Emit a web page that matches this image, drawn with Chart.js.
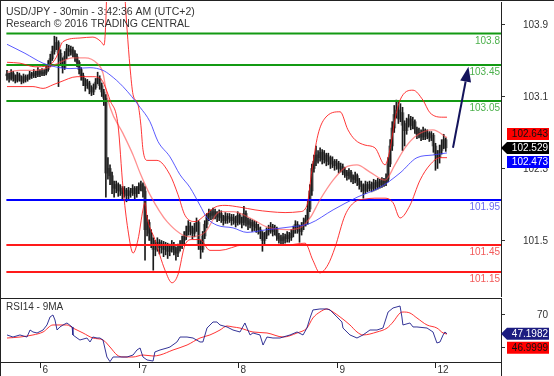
<!DOCTYPE html>
<html><head><meta charset="utf-8">
<script src="https://cdn.jsdelivr.net/npm/chart.js@4/dist/chart.umd.min.js"></script>
<style>
html,body{margin:0;padding:0;background:#fff;width:554px;height:376px;overflow:hidden}
#c1{position:absolute;left:0;top:0}
#c2{position:absolute;left:0;top:298px}
</style></head><body>
<canvas id="c1" width="554" height="298"></canvas>
<canvas id="c2" width="554" height="78"></canvas>
<script>
// ---------------- DATA ----------------
const titleLine1 = 'USD/JPY - 30min - 3:42:36 AM (UTC+2)';
const titleLine2 = 'Research \u00A9 2016 TRADING CENTRAL';
const rsiTitle = 'RSI14 - 9MA';

// 30-min bars, index 0 = first bar on screen
const firstOpen = 103.35;
const closes = [103.33,103.30,103.36,103.31,103.28,103.34,103.30,103.27,103.32,103.29,
103.31,103.35,103.33,103.36,103.34,103.38,103.35,103.37,103.36,103.40,
103.45,103.52,103.60,103.66,103.70,103.58,103.50,103.42,103.55,103.63,
103.60,103.62,103.58,103.54,103.48,103.40,103.33,103.28,103.22,103.25,
103.18,103.15,103.20,103.26,103.30,103.22,103.15,103.08,102.25,102.30,
102.22,102.12,102.08,102.12,102.05,102.08,102.02,102.06,102.00,102.05,
102.03,102.08,102.02,102.06,102.10,102.12,102.05,101.62,101.70,101.58,
101.50,101.40,101.45,101.48,101.42,101.46,101.40,101.44,101.38,101.42,
101.45,101.40,101.36,101.42,101.45,101.50,101.55,101.60,101.66,101.62,
101.58,101.64,101.70,101.45,101.40,101.55,101.68,101.76,101.80,101.78,
101.82,101.79,101.76,101.80,101.75,101.72,101.77,101.74,101.76,101.72,
101.75,101.70,101.78,101.73,101.70,101.80,101.72,101.68,101.70,101.66,
101.68,101.64,101.62,101.58,101.50,101.55,101.60,101.62,101.65,101.60,
101.63,101.55,101.52,101.50,101.54,101.52,101.56,101.53,101.58,101.62,
101.68,101.64,101.60,101.66,101.70,101.74,101.85,102.05,102.30,102.38,
102.45,102.42,102.48,102.40,102.45,102.38,102.42,102.35,102.38,102.33,
102.36,102.30,102.32,102.28,102.25,102.22,102.26,102.20,102.18,102.22,
102.16,102.12,102.10,102.05,102.12,102.08,102.12,102.08,102.14,102.10,
102.15,102.12,102.16,102.14,102.18,102.35,102.55,102.75,102.90,102.95,
102.85,102.92,102.78,102.72,102.80,102.85,102.78,102.82,102.74,102.68,
102.70,102.65,102.72,102.66,102.69,102.64,102.67,102.55,102.45,102.42,
102.50,102.56,102.62,102.53];
const highs = [103.39,103.36,103.40,103.38,103.34,103.37,103.36,103.33,103.35,103.34,
103.34,103.38,103.37,103.40,103.38,103.42,103.40,103.41,103.40,103.44,
103.50,103.57,103.66,103.77,103.76,103.72,103.62,103.53,103.60,103.68,
103.67,103.66,103.65,103.61,103.57,103.50,103.42,103.36,103.30,103.29,
103.27,103.22,103.24,103.30,103.37,103.33,103.25,103.18,103.12,102.42,
102.34,102.26,102.16,102.16,102.14,102.12,102.10,102.10,102.08,102.09,
102.08,102.12,102.10,102.10,102.14,102.16,102.14,102.10,101.78,101.73,
101.62,101.53,101.50,101.53,101.51,101.50,101.49,101.48,101.47,101.46,
101.50,101.48,101.43,101.46,101.50,101.55,101.60,101.66,101.72,101.70,
101.66,101.69,101.75,101.72,101.50,101.60,101.72,101.80,101.85,101.84,
101.86,101.85,101.82,101.84,101.83,101.78,101.81,101.80,101.80,101.79,
101.79,101.77,101.82,101.80,101.76,101.88,101.83,101.75,101.74,101.73,
101.72,101.71,101.68,101.65,101.60,101.59,101.64,101.67,101.70,101.68,
101.67,101.65,101.58,101.56,101.58,101.57,101.60,101.59,101.62,101.66,
101.72,101.71,101.67,101.70,101.75,101.78,101.95,102.12,102.35,102.45,
102.55,102.50,102.53,102.51,102.50,102.47,102.47,102.44,102.43,102.40,
102.40,102.38,102.36,102.35,102.31,102.28,102.30,102.28,102.23,102.26,
102.24,102.19,102.16,102.13,102.16,102.15,102.16,102.15,102.18,102.17,
102.19,102.18,102.20,102.19,102.24,102.42,102.62,102.82,103.00,103.06,
103.04,103.02,102.98,102.83,102.86,102.90,102.88,102.87,102.84,102.76,
102.75,102.73,102.76,102.74,102.73,102.71,102.71,102.69,102.58,102.50,
102.56,102.62,102.68,102.64];
const lows = [103.28,103.26,103.28,103.27,103.25,103.26,103.27,103.24,103.25,103.26,
103.27,103.29,103.30,103.31,103.31,103.32,103.32,103.33,103.33,103.34,
103.38,103.43,103.50,103.57,103.62,103.21,103.45,103.36,103.40,103.52,
103.55,103.56,103.54,103.49,103.43,103.35,103.28,103.22,103.16,103.19,
103.13,103.11,103.12,103.18,103.24,103.18,103.10,103.00,101.98,102.18,
102.12,102.02,101.98,102.03,101.99,102.00,101.95,101.98,101.93,101.96,
101.98,102.00,101.96,101.98,102.02,102.05,101.98,101.28,101.55,101.50,
101.42,101.17,101.33,101.38,101.35,101.36,101.32,101.34,101.30,101.33,
101.37,101.34,101.28,101.32,101.38,101.41,101.46,101.51,101.56,101.56,
101.52,101.54,101.60,101.40,101.30,101.37,101.52,101.64,101.72,101.73,
101.74,101.74,101.71,101.72,101.70,101.67,101.69,101.69,101.70,101.67,
101.68,101.65,101.67,101.68,101.64,101.67,101.66,101.62,101.64,101.60,
101.61,101.59,101.57,101.52,101.38,101.46,101.52,101.56,101.58,101.55,
101.56,101.50,101.47,101.46,101.46,101.47,101.48,101.48,101.50,101.54,
101.58,101.58,101.48,101.56,101.62,101.66,101.68,101.82,102.00,102.26,
102.33,102.36,102.38,102.35,102.36,102.33,102.34,102.30,102.31,102.28,
102.29,102.25,102.26,102.23,102.20,102.17,102.18,102.15,102.13,102.14,
102.11,102.07,102.04,101.97,102.02,102.04,102.05,102.04,102.05,102.06,
102.07,102.08,102.09,102.10,102.11,102.15,102.32,102.50,102.70,102.86,
102.80,102.82,102.50,102.55,102.68,102.76,102.73,102.74,102.69,102.63,
102.64,102.61,102.62,102.62,102.63,102.60,102.61,102.48,102.28,102.30,
102.36,102.46,102.52,102.49];

// Indicator curves: [bar index, value]
const bandUpper = [[0,103.48],[6.3,103.47],[13.6,103.43],[19.9,103.44],[23.8,103.53],[27.2,103.71],[35.4,103.75],[41.7,103.76],[45.6,103.71],[47.1,103.67],[48,103.95],[48.6,104.4],[52.5,105.0],[56.6,104.4],[58.3,103.84],[59.7,103.43],[61.2,103.12],[63.6,103.01],[65,102.78],[66,102.51],[68,102.39],[72.8,102.39],[79.1,102.23],[83,102.01],[86.4,101.78],[91.3,101.71],[96.1,101.78],[101,101.87],[105.8,101.89],[113.1,101.87],[120.4,101.84],[127.7,101.82],[135,101.81],[142.2,101.82],[145.6,101.89],[148,102.28],[150.9,102.67],[154.4,102.86],[161.7,102.93],[165.5,102.73],[168.9,102.62],[173.8,102.56],[178.6,102.53],[183.5,102.34],[185.9,102.51],[188.3,102.84],[190.8,103.06],[197.1,103.17],[201.9,103.06],[205.3,102.92],[211.7,102.87],[213.6,102.87]];
const bandMiddle = [[0,103.37],[6.3,103.39],[13.6,103.39],[19.9,103.42],[25.7,103.48],[31.6,103.53],[37.9,103.53],[43.7,103.47],[46.6,103.36],[48.1,103.17],[50,102.98],[56.3,102.69],[61.2,102.45],[64.6,102.25],[69.4,102.01],[77.7,101.71],[88.8,101.54],[96.1,101.59],[103.4,101.82],[109.7,101.82],[118,101.75],[126.2,101.65],[135.9,101.62],[142.2,101.64],[147.1,101.75],[151.9,101.95],[158.3,102.17],[164.1,102.31],[169.9,102.34],[176.2,102.26],[183.5,102.17],[188.3,102.34],[193.2,102.53],[199,102.67],[206.8,102.73],[213.6,102.643]];
const bandLower = [[0,103.21],[12.6,103.21],[17.5,103.19],[22.3,103.23],[25.7,103.26],[34,103.32],[41.7,103.32],[46.1,103.28],[47.6,103.21],[50,103.06],[53.9,102.78],[56.3,102.09],[58.7,101.62],[61.2,101.36],[63.6,101.51],[66,101.84],[67,101.92],[68,101.76],[71.8,101.51],[76.7,101.17],[80.1,101.03],[83,101.12],[86.4,101.45],[89.8,101.51],[93.7,101.51],[98.5,101.39],[103.4,101.39],[114.6,101.45],[125.2,101.45],[135.9,101.45],[144.7,101.47],[148.5,101.28],[151.9,101.14],[155.8,101.23],[159.2,101.42],[164.1,101.78],[168.9,101.93],[173.8,101.96],[178.6,101.97],[183.5,101.97],[187.4,101.92],[190.8,101.75],[195.6,101.89],[200.5,102.17],[205.3,102.34],[210.2,102.42],[213.6,102.42]];
const movingAvg = [[0,103.68],[8.7,103.58],[17.5,103.47],[25.7,103.42],[30.6,103.41],[40.3,103.42],[46.6,103.39],[50,103.34],[56.3,103.21],[64.6,102.98],[69.4,102.82],[73.3,102.6],[79.1,102.43],[84,102.23],[88.8,102.09],[93.7,101.89],[97.1,101.75],[101.9,101.67],[109.7,101.64],[116.5,101.59],[126.2,101.62],[137.4,101.65],[147.1,101.69],[158.3,101.84],[169.9,101.98],[181.1,102.09],[190.8,102.25],[199,102.42],[206.8,102.45],[213.6,102.473]];

const rsiValues = [[0,45.8],[2.9,43.3],[6.3,45.8],[9.7,43.3],[11.2,51.8],[12.6,49.4],[14.6,48.2],[17.5,51.8],[19.4,57.9],[20.9,67.6],[22.3,70],[23.3,63.9],[24.3,51.8],[25.7,55.5],[27.2,57.9],[29.1,60.3],[31.6,55.5],[32,45.8],[34,42.1],[35.4,39.7],[38.8,42.1],[40.3,37.3],[41.7,43.3],[43.7,42.1],[45.1,42.1],[46.6,39.7],[48.5,19.1],[50,13.5],[51.5,19.1],[54.9,19.1],[58.3,19.1],[61.2,21.5],[63.1,27.6],[64.6,30],[66,19.1],[68,15.5],[70.9,14.2],[71.8,25.2],[74.3,27.6],[77.7,30],[79.1,31.2],[82.5,37.3],[84,43.3],[87.4,43.3],[90.3,42.1],[93.7,37.3],[95.1,37.3],[97.1,54.2],[100,61.5],[101.9,61.5],[103.4,57.9],[106.8,55.5],[109.7,51.8],[113.1,49.4],[115.5,60.3],[116.5,54.2],[118,45.8],[119.4,48.2],[122.8,45.8],[124.3,33.6],[126.2,43.3],[129.1,42.1],[132.5,42.1],[134,43.3],[137.4,45.8],[140.8,49.4],[143.7,45.8],[145.6,54.2],[147.1,66.4],[148.5,76.1],[151.9,77.3],[155.3,77.3],[156.8,76.1],[160.2,67.6],[162.6,61.5],[163.1,54.2],[166.5,45.8],[169.9,42.1],[172.8,45.8],[176.2,51.8],[179.6,51.8],[182.5,54.2],[185,73.6],[187.4,78.5],[190.8,80.9],[191.7,67.6],[192.2,57.9],[195.6,60.3],[197.1,55.5],[199,55.5],[203.9,54.2],[206.8,49.4],[208.7,36.1],[210.2,37.3],[211.7,45.8],[212.6,49.4],[213.6,47.1982]];
const rsiMA = [[0,42.1],[6.3,43.3],[12.6,45.8],[17.5,49.4],[22.3,57.9],[29.1,57.9],[32,54.2],[36.9,48.2],[41.7,42.1],[46.6,39.7],[50,31.2],[53.4,21.5],[56.3,19.1],[61.2,19.1],[66,21.5],[70.9,20.3],[74.3,21.5],[80.6,27.6],[87.4,33.6],[93.7,42.1],[98.5,45.8],[103.4,51.8],[106.8,56.7],[109.7,55.5],[113.1,54.2],[119.4,49.4],[126.2,48.2],[134,43.3],[140.8,48.2],[145.6,54.2],[148.5,66.4],[151.9,73.6],[155.3,77.3],[158.3,73.6],[161.7,67.6],[166.5,57.9],[169.9,49.4],[172.8,45.8],[179.6,49.4],[184.5,54.2],[187.4,61.5],[190.8,72.4],[192.2,73.6],[195.6,72.4],[199,66.4],[203.9,57.9],[208.7,54.2],[211.7,48.2],[213.6,46.9999]];

const levelValues = [103.8, 103.45, 103.05, 101.95, 101.45, 101.15];
const levelLabels = ['103.8', '103.45', '103.05', '101.95', '101.45', '101.15'];
const priceTicks = [101.5, 102.3, 103.1, 103.9];
const rsiTicks = [30, 70];
const dayTickIndex = [16, 64, 112, 160, 208];
const dayTickLabels = ['6', '7', '8', '9', '12'];
const lastPrice = 102.529;
const lastUpperTag = 102.643;
const lastMATag = 102.473;
const lastRSI = 47.1982;
const lastRSIMA = 46.9999;
const forecastArrow = [[216.5, 102.53], [224.0, 103.43]];

// ---------------- STYLE / SETUP ----------------
const FONT = '"Liberation Sans", Arial, sans-serif';
const FS = '10px ';
const X_MIN = -2.913, X_MAX = 239.81;
const levelLine = ['#139a13','#139a13','#139a13','#0000ff','#ff1a1a','#ff1a1a'];
const levelText = ['#4cb04c','#4cb04c','#4cb04c','#6a6af2','#f25a5a','#f25a5a'];

const pts = a => a.map(([x, y]) => ({x, y}));
const bodyData = closes.map((c, i) => ({x: i, y: [i ? closes[i - 1] : firstOpen, c]}));
const wickData = closes.map((c, i) => ({x: i, y: [lows[i], highs[i]]}));

const levelDatasets = levelValues.map((v, k) => ({
  type: 'line', data: [{x: -0.3, y: v}, {x: X_MAX, y: v}], borderColor: levelLine[k],
  borderWidth: 2, pointRadius: 0, order: 4
}));

function tagBox(ctx, yc, bg, fg, text, arrow) {
  const x0 = 507, x1 = 549, h = 12;
  ctx.fillStyle = bg;
  ctx.beginPath();
  if (arrow) { ctx.moveTo(501, yc); ctx.lineTo(x0, yc - h / 2); }
  else ctx.moveTo(x0, yc - h / 2);
  ctx.lineTo(x1, yc - h / 2); ctx.lineTo(x1, yc + h / 2); ctx.lineTo(x0, yc + h / 2);
  ctx.closePath(); ctx.fill();
  ctx.fillStyle = fg; ctx.font = FS + FONT; ctx.textAlign = 'right'; ctx.textBaseline = 'middle';
  ctx.fillText(text, 548, yc + 0.5);
}

const mainDecor = {
  id: 'mainDecor',
  afterDraw(chart) {
    const ctx = chart.ctx, xs = chart.scales.x, ys = chart.scales.y;
    ctx.save();
    ctx.strokeStyle = '#222'; ctx.lineWidth = 1;
    ctx.beginPath(); ctx.moveTo(0, 0.5); ctx.lineTo(554, 0.5); ctx.stroke();
    ctx.beginPath(); ctx.moveTo(0.5, 0); ctx.lineTo(0.5, 298); ctx.stroke();
    // y tick labels
    ctx.fillStyle = '#333'; ctx.font = FS + FONT; ctx.textAlign = 'right'; ctx.textBaseline = 'middle';
    priceTicks.forEach(v => ctx.fillText(v.toFixed(1), 548, ys.getPixelForValue(v) + 0.5));
    // level labels
    levelValues.forEach((v, k) => {
      ctx.fillStyle = levelText[k];
      ctx.fillText(levelLabels[k], 500, ys.getPixelForValue(v) + 7.5);
    });
    // title
    ctx.fillStyle = '#333'; ctx.textAlign = 'left'; ctx.textBaseline = 'alphabetic';
    ctx.font = '10.5px ' + FONT;
    ctx.fillText(titleLine1, 6, 15);
    ctx.fillText(titleLine2, 6, 27);
    // forecast arrow
    const [[a0, b0], [a1, b1]] = forecastArrow;
    const x0 = xs.getPixelForValue(a0), y0 = ys.getPixelForValue(b0);
    const x1 = xs.getPixelForValue(a1), y1 = ys.getPixelForValue(b1);
    const ang = Math.atan2(y1 - y0, x1 - x0), hl = 15, hw = 5.5;
    const bx = x1 - hl * Math.cos(ang), by = y1 - hl * Math.sin(ang);
    ctx.strokeStyle = '#14145c'; ctx.fillStyle = '#14145c'; ctx.lineWidth = 2;
    ctx.beginPath(); ctx.moveTo(x0, y0); ctx.lineTo(bx, by); ctx.stroke();
    ctx.beginPath(); ctx.moveTo(x1, y1);
    ctx.lineTo(bx + hw * Math.sin(ang), by - hw * Math.cos(ang));
    ctx.lineTo(bx - hw * Math.sin(ang), by + hw * Math.cos(ang));
    ctx.closePath(); ctx.fill();
    // price tags
    const yc = ys.getPixelForValue(lastPrice);
    tagBox(ctx, Math.min(ys.getPixelForValue(lastUpperTag), yc - 14), '#ff0000', '#111', lastUpperTag.toFixed(3), false);
    tagBox(ctx, Math.max(ys.getPixelForValue(lastMATag), yc + 14), '#0000ff', '#fff', lastMATag.toFixed(3), false);
    tagBox(ctx, yc, '#000', '#fff', lastPrice.toFixed(3), true);
    ctx.restore();
  }
};

new Chart(document.getElementById('c1'), {
  type: 'bar',
  data: {
    datasets: [
      {type: 'bar', data: bodyData, backgroundColor: '#8e8e8e', barThickness: 3, grouped: false, order: 7},
      {type: 'bar', data: wickData, backgroundColor: '#1a1a1a', barThickness: 1, grouped: false, order: 6},
      ...levelDatasets,
      {type: 'line', data: pts(bandMiddle), borderColor: 'rgba(255,70,70,0.6)', borderWidth: 1.3, pointRadius: 0, cubicInterpolationMode: 'monotone', order: 3},
      {type: 'line', data: pts(bandUpper), borderColor: 'rgba(255,20,20,0.85)', borderWidth: 1, pointRadius: 0, cubicInterpolationMode: 'monotone', order: 2},
      {type: 'line', data: pts(bandLower), borderColor: 'rgba(255,20,20,0.85)', borderWidth: 1, pointRadius: 0, cubicInterpolationMode: 'monotone', order: 2},
      {type: 'line', data: pts(movingAvg), borderColor: 'rgba(50,50,255,0.8)', borderWidth: 1, pointRadius: 0, cubicInterpolationMode: 'monotone', order: 1}
    ]
  },
  options: {
    responsive: false, animation: false, devicePixelRatio: 1, events: [],
    layout: {padding: {left: 1, right: 6, top: 2, bottom: 2}},
    plugins: {legend: {display: false}, tooltip: {enabled: false}},
    scales: {
      x: {type: 'linear', min: X_MIN, max: X_MAX, offset: false, display: false},
      y: {type: 'linear', position: 'right', min: 100.883, max: 104.15,
        afterFit(s) { s.width = 47; },
        afterBuildTicks(s) { s.ticks = priceTicks.map(v => ({value: v})); },
        grid: {drawOnChartArea: false, drawTicks: true, tickLength: 4, tickColor: '#333', color: '#333'},
        border: {display: true, color: '#222', width: 1},
        ticks: {display: false}
      }
    }
  },
  plugins: [mainDecor]
});

const rsiDecor = {
  id: 'rsiDecor',
  afterDraw(chart) {
    const ctx = chart.ctx, xs = chart.scales.x, ys = chart.scales.y, ca = chart.chartArea;
    ctx.save();
    ctx.strokeStyle = '#222'; ctx.lineWidth = 1;
    ctx.beginPath(); ctx.moveTo(0, ca.top + 0.5); ctx.lineTo(ca.right, ca.top + 0.5); ctx.stroke();
    ctx.beginPath(); ctx.moveTo(0, ca.bottom + 0.5); ctx.lineTo(ca.right, ca.bottom + 0.5); ctx.stroke();
    ctx.beginPath(); ctx.moveTo(0.5, 0); ctx.lineTo(0.5, 78); ctx.stroke();
    ctx.beginPath(); ctx.moveTo(ca.right + 0.5, 0); ctx.lineTo(ca.right + 0.5, 78); ctx.stroke();
    // x ticks
    ctx.fillStyle = '#333'; ctx.font = FS + FONT; ctx.textAlign = 'left'; ctx.textBaseline = 'alphabetic';
    dayTickIndex.forEach((d, k) => {
      const x = Math.round(xs.getPixelForValue(d)) + 0.5;
      ctx.beginPath(); ctx.moveTo(x, ca.bottom + 1); ctx.lineTo(x, ca.bottom + 6); ctx.stroke();
      ctx.fillText(dayTickLabels[k], x + 2, ca.bottom + 11);
    });
    // y labels
    ctx.textAlign = 'right'; ctx.textBaseline = 'middle';
    rsiTicks.forEach(v => ctx.fillText(String(v), 548, ys.getPixelForValue(v) + 0.5));
    // title
    ctx.font = '10px ' + FONT; ctx.textAlign = 'left'; ctx.textBaseline = 'alphabetic';
    ctx.fillText(rsiTitle, 6, 12);
    // value tags
    const yc = ys.getPixelForValue(lastRSI);
    tagBox(ctx, Math.max(ys.getPixelForValue(lastRSIMA), yc + 14), '#ff0000', '#111', lastRSIMA.toFixed(4), false);
    tagBox(ctx, yc, '#1c1c80', '#fff', lastRSI.toFixed(4), true);
    ctx.restore();
  }
};

new Chart(document.getElementById('c2'), {
  type: 'line',
  data: {
    datasets: [
      {data: pts(rsiMA), borderColor: 'rgba(255,30,30,0.9)', borderWidth: 1, pointRadius: 0, cubicInterpolationMode: 'monotone', order: 2},
      {data: pts(rsiValues), borderColor: 'rgba(30,30,140,0.9)', borderWidth: 1, pointRadius: 0, tension: 0, order: 1}
    ]
  },
  options: {
    responsive: false, animation: false, devicePixelRatio: 1, events: [],
    layout: {padding: {left: 1, right: 6, top: 0, bottom: 14}},
    plugins: {legend: {display: false}, tooltip: {enabled: false}},
    scales: {
      x: {type: 'linear', min: X_MIN, max: X_MAX, offset: false, display: false},
      y: {type: 'linear', position: 'right', min: 13.03, max: 90.6,
        afterFit(s) { s.width = 47; },
        afterBuildTicks(s) { s.ticks = rsiTicks.map(v => ({value: v})); },
        grid: {drawOnChartArea: false, drawTicks: true, tickLength: 4, tickColor: '#333', color: '#333'},
        border: {display: true, color: '#222', width: 1},
        ticks: {display: false}
      }
    }
  },
  plugins: [rsiDecor]
});
</script></body></html>
